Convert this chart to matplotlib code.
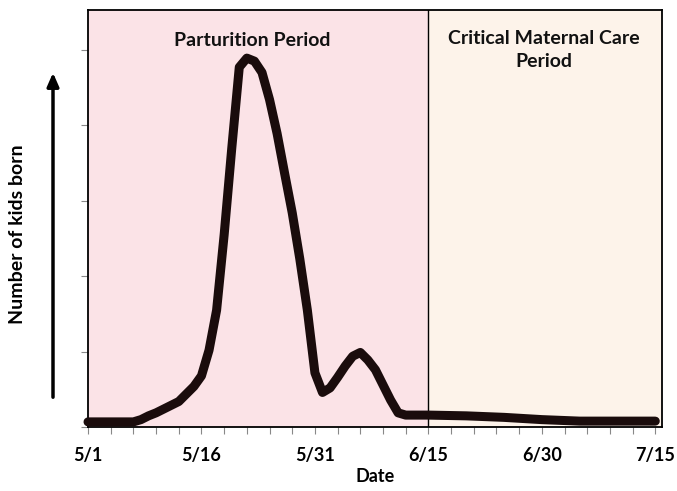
#Importing libraries
import matplotlib.pyplot as plt
from matplotlib.patches import FancyArrowPatch

#Data (days since 5/1, relative number of kids born)
days = [0, 6, 7, 8, 9, 10, 11, 12, 13, 14, 15, 16, 17, 18, 19, 20, 21, 22, 23,
        24, 25, 26, 27, 28, 29, 30, 31, 32, 33, 34, 35, 36, 37, 38, 39, 40,
        41, 42, 45, 50, 55, 60, 65, 75]
kids_born = [0.07, 0.07, 0.10, 0.15, 0.19, 0.24, 0.29, 0.34, 0.44, 0.54, 0.68,
             1.02, 1.55, 2.55, 3.69, 4.77, 4.89, 4.85, 4.70, 4.34, 3.89, 3.36,
             2.84, 2.23, 1.55, 0.72, 0.46, 0.52, 0.66, 0.81, 0.94, 0.99, 0.89,
             0.76, 0.56, 0.36, 0.19, 0.16, 0.16, 0.15, 0.13, 0.10, 0.08, 0.08]

tick_days = [0, 15, 30, 45, 60, 75]
tick_labels = ["5/1", "5/16", "5/31", "6/15", "6/30", "7/15"]

#Periods: (start, end, color, label, label x, label y)
periods = [
  (0, 45, "#fbe3e7", "Parturition Period", 21.7, 5.13),
  (45, 76, "#fdf3ea", "Critical Maternal Care\nPeriod", 60.3, 5.0),
]

font = "Lato"

fig = plt.figure(figsize=(6.77, 4.91), dpi=100)
ax = fig.add_axes([0.130, 0.130, 0.848, 0.850])

#Shaded periods and their titles
for start, end, color, label, lx, ly in periods:
  ax.axvspan(start, end, color=color, zorder=0, lw=0)
  ax.text(lx, ly, label, ha="center", va="center", fontsize=14,
          fontweight="bold", family=font, color="#111111", linespacing=1.4)
ax.axvline(45, color="black", lw=1.0, zorder=1)

#The curve
ax.plot(days, kids_born, color="#1a0c0c", lw=6.5, solid_capstyle="round",
        solid_joinstyle="round", zorder=3, clip_on=False)

ax.set_xlim(0, 75.9)
ax.set_ylim(0, 5.53)
ax.set_xticks(range(0, 76, 3), minor=True)
ax.set_xticks(tick_days)
ax.set_xticklabels(tick_labels, fontsize=13, fontweight="bold", family=font)
ax.set_yticks(range(0, 6))
ax.set_yticklabels([])
ax.tick_params(axis="both", which="both", direction="out", color="#888888",
               length=5, width=0.8, pad=9)
ax.set_xlabel("Date", fontsize=13, fontweight="bold", family=font, labelpad=3)

for spine in ax.spines.values():
  spine.set_color("black")
  spine.set_linewidth(1.3)

#Arrow and y label on the left
fig.patches.append(FancyArrowPatch(
  (53 / 677, 1 - 400 / 491), (53 / 677, 1 - 70 / 491),
  transform=fig.transFigure, arrowstyle="-|>,head_length=0.8,head_width=0.35",
  mutation_scale=10, lw=2.5, color="black"))
fig.text(18 / 677, 1 - 234 / 491, "Number of kids born", rotation=90,
         ha="center", va="center", fontsize=14, fontweight="bold", family=font)

fig.savefig("out.png", dpi=100)
